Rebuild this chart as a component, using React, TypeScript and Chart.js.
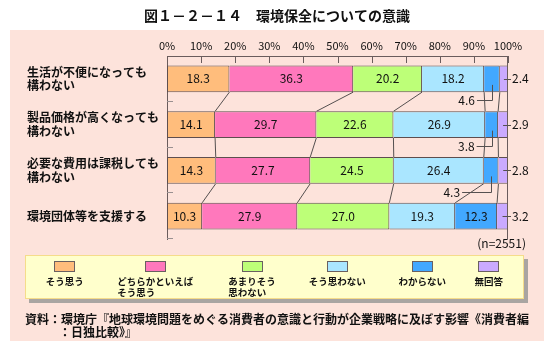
import React, { useEffect, useRef } from 'react';
import { Chart, registerables } from 'chart.js';

Chart.register(...registerables);

// ---- data ----
const categories: (string | string[])[] = [
  ['生活が不便になっても', '構わない'],
  ['製品価格が高くなっても', '構わない'],
  ['必要な費用は課税しても', '構わない'],
  '環境団体等を支援する',
];
const seriesLabels = [
  'そう思う',
  'どちらかといえば\nそう思う',
  'あまりそう\n思わない',
  'そう思わない',
  'わからない',
  '無回答',
];
const soOmou = [18.3, 14.1, 14.3, 10.3];
const dochirakaToieba = [36.3, 29.7, 27.7, 27.9];
const amariSoOmowanai = [20.2, 22.6, 24.5, 27.0];
const soOmowanai = [18.2, 26.9, 26.4, 19.3];
const wakaranai = [4.6, 3.8, 4.3, 12.3];
const mukaito = [2.4, 2.9, 2.8, 3.2];
const xTickValues = [0, 10, 20, 30, 40, 50, 60, 70, 80, 90, 100];
const titleText = '図１－２－１４　環境保全についての意識';
const sampleText = '(n=2551)';
const sourceLines = [
  '資料：環境庁『地球環境問題をめぐる消費者の意識と行動が企業戦略に及ぼす影響《消費者編',
  '：日独比較》』',
];

// ---- style ----
const FONT = "'Noto Sans CJK JP', 'Noto Sans', sans-serif";
const colors = ['#ffbd7c', '#ff78bc', '#bdff78', '#aae6ff', '#42a8ff', '#caaaff'];
const BAR_BORDER = '#5e4e4e';
const FRAME = '#6a5c5c';
const PANEL = '#fde3db';
const TEXT = '#111111';

const allSeries = [soOmou, dochirakaToieba, amariSoOmowanai, soOmowanai, wakaranai, mukaito];

const panelPlugin = {
  id: 'panelBg',
  beforeDraw(chart: any) {
    const { ctx, width, height } = chart;
    ctx.save();
    ctx.fillStyle = '#ffffff';
    ctx.fillRect(0, 0, width, height);
    ctx.fillStyle = PANEL;
    ctx.fillRect(10, 30, 534, 311);
    ctx.restore();
  },
};

const framePlugin = {
  id: 'frameTicks',
  afterDatasetsDraw(chart: any) {
    const { ctx, chartArea: a, scales } = chart;
    const x = scales.x;
    const y = scales.y;
    ctx.save();
    ctx.lineWidth = 1;
    ctx.strokeStyle = FRAME;
    ctx.beginPath();
    x.ticks.forEach((t: any) => {
      const px = Math.round(x.getPixelForValue(t.value)) + 0.5;
      ctx.moveTo(px, a.top);
      ctx.lineTo(px, a.top + 7);
    });
    const rx = Math.round(a.right) - 0.5;
    ctx.moveTo(rx, a.top);
    ctx.lineTo(rx, a.bottom);
    ctx.stroke();
    ctx.strokeStyle = '#999090';
    ctx.beginPath();
    const n = chart.data.labels.length;
    for (let i = 0; i < n; i++) {
      const b = i < n - 1 ? (y.getPixelForValue(i) + y.getPixelForValue(i + 1)) / 2 : a.bottom;
      const py = Math.round(b) - 0.5;
      ctx.moveTo(a.left, py);
      ctx.lineTo(a.left + 6, py);
    }
    ctx.stroke();
    ctx.restore();
  },
};

const barLabelPlugin = {
  id: 'barLabels',
  afterDatasetsDraw(chart: any, _args: any, opts: any) {
    const { ctx, chartArea } = chart;
    const dss = chart.data.datasets;
    const metas = dss.map((_: any, k: number) => chart.getDatasetMeta(k));
    const nCat = chart.data.labels.length;
    const last = dss.length - 1;
    ctx.save();
    ctx.lineWidth = 1;
    ctx.strokeStyle = '#555050';
    ctx.beginPath();
    for (let i = 0; i < nCat - 1; i++) {
      for (let k = 0; k < last; k++) {
        const a = metas[k].data[i];
        const b = metas[k].data[i + 1];
        ctx.moveTo(a.x, a.y + a.height / 2);
        ctx.lineTo(b.x, b.y - b.height / 2);
      }
    }
    ctx.stroke();

    ctx.font = `12px ${FONT}`;
    ctx.fillStyle = TEXT;
    ctx.textBaseline = 'middle';
    dss.forEach((ds: any, k: number) => {
      metas[k].data.forEach((el: any, i: number) => {
        const v = ds.data[i];
        const txt = v.toFixed(1);
        const cx = (el.x + el.base) / 2;
        const bottom = el.y + el.height / 2;
        if (k === last) {
          ctx.beginPath();
          ctx.moveTo(cx, Math.round(el.y) + 0.5);
          ctx.lineTo(chartArea.right + 3, Math.round(el.y) + 0.5);
          ctx.stroke();
          ctx.textAlign = 'left';
          ctx.fillText(txt, chartArea.right + 4, el.y);
        } else if (v < 6) {
          const ly = Math.round(bottom + 8) + 0.5;
          const lx = cx - (opts.leaderLen[i] || 15);
          const vx = Math.round(cx) + 0.5;
          ctx.beginPath();
          ctx.moveTo(vx, el.y + 6);
          ctx.lineTo(vx, ly);
          ctx.lineTo(lx, ly);
          ctx.stroke();
          ctx.textAlign = 'right';
          ctx.fillText(txt, lx - 2, ly);
        } else {
          ctx.textAlign = 'center';
          ctx.fillText(txt, cx, el.y);
        }
      });
    });
    ctx.restore();
  },
};

const extrasPlugin = {
  id: 'extras',
  afterDraw(chart: any, _args: any, opts: any) {
    const { ctx, chartArea } = chart;
    ctx.save();
    ctx.fillStyle = TEXT;
    ctx.textBaseline = 'middle';
    // title
    ctx.font = `bold 14px ${FONT}`;
    ctx.textAlign = 'center';
    ctx.fillText(titleText, chart.width / 2, 16);
    // sample size
    ctx.font = `12px ${FONT}`;
    ctx.textAlign = 'right';
    ctx.fillText(sampleText, chartArea.right + 18, 243);
    // legend box
    const lb = opts.legendBox;
    ctx.fillStyle = '#a9a5a2';
    ctx.fillRect(lb.x + 4, lb.y + 4, lb.w, lb.h);
    ctx.fillStyle = '#ffffcc';
    ctx.fillRect(lb.x, lb.y, lb.w, lb.h);
    ctx.strokeStyle = '#f5dc8a';
    ctx.lineWidth = 1;
    ctx.strokeRect(lb.x + 0.5, lb.y + 0.5, lb.w - 1, lb.h - 1);
    chart.data.datasets.forEach((ds: any, k: number) => {
      const c = opts.legendCenters[k];
      ctx.fillStyle = ds.backgroundColor;
      ctx.fillRect(Math.round(c - 10.5), 261, 21, 11);
      ctx.strokeStyle = '#6a6060';
      ctx.strokeRect(Math.round(c - 10.5) + 0.5, 261.5, 20, 10);
      const lines = String(ds.label).split('\n');
      ctx.fillStyle = TEXT;
      ctx.font = `bold 9.5px ${FONT}`;
      const w0 = ctx.measureText(lines[0]).width;
      ctx.textAlign = 'left';
      lines.forEach((ln: string, j: number) => {
        ctx.fillText(ln, c - w0 / 2, 281 + j * 11);
      });
    });
    // source
    ctx.fillStyle = TEXT;
    ctx.font = `bold 12px ${FONT}`;
    ctx.textAlign = 'left';
    ctx.fillText(sourceLines[0], 25, 319);
    ctx.fillText(sourceLines[1], 59, 332);
    ctx.restore();
  },
};

export default function App() {
  const ref = useRef<HTMLCanvasElement | null>(null);
  useEffect(() => {
    if (!ref.current) return;
    const chart = new Chart(ref.current, {
      type: 'bar',
      data: {
        labels: categories as any,
        datasets: allSeries.map((d, k) => ({
          label: seriesLabels[k],
          data: d,
          backgroundColor: colors[k],
          borderColor: BAR_BORDER,
          borderWidth: { top: 1, bottom: 1, right: 1, left: k === 0 ? 1 : 0 },
          borderSkipped: false,
          barPercentage: 0.58,
          categoryPercentage: 1,
        })),
      },
      options: {
        indexAxis: 'y',
        animation: false,
        responsive: false,
        events: [],
        layout: { padding: { left: 27, right: 46, top: 30, bottom: 114 } },
        scales: {
          x: {
            position: 'top',
            stacked: true,
            min: 0,
            max: 100,
            afterBuildTicks: (s: any) => {
              s.ticks = xTickValues.map((v) => ({ value: v }));
            },
            grid: { display: false, drawTicks: false },
            border: { display: true, color: FRAME, width: 1 },
            ticks: {
              padding: 4,
              color: TEXT,
              autoSkip: false,
              maxRotation: 0,
              font: { family: FONT, size: 11 },
              callback: (v: any) => `${v}%`,
            },
            afterFit: (s: any) => {
              s.height = 26;
            },
          },
          y: {
            stacked: true,
            grid: { display: false, drawTicks: false },
            border: { display: true, color: FRAME, width: 1 },
            ticks: {
              crossAlign: 'far',
              color: TEXT,
              autoSkip: false,
              font: { family: FONT, size: 12, weight: 'bold', lineHeight: 13.5 / 12 },
            },
            afterFit: (s: any) => {
              s.width = 140;
            },
          },
        },
        plugins: {
          legend: { display: false },
          title: { display: false },
          tooltip: { enabled: false },
          barLabels: { leaderLen: [15, 15, 29, 15] },
          extras: {
            legendBox: { x: 25, y: 255, w: 499, h: 44 },
            legendCenters: [64.7, 155.3, 252, 337.2, 422.2, 488.8],
          },
        } as any,
      },
      plugins: [panelPlugin, framePlugin, barLabelPlugin, extrasPlugin],
    });
    return () => chart.destroy();
  }, []);
  return (
    <div style={{ position: 'absolute', left: 0, top: 0, width: 554, height: 353 }}>
      <canvas ref={ref} width={554} height={353} style={{ display: 'block' }} />
    </div>
  );
}
